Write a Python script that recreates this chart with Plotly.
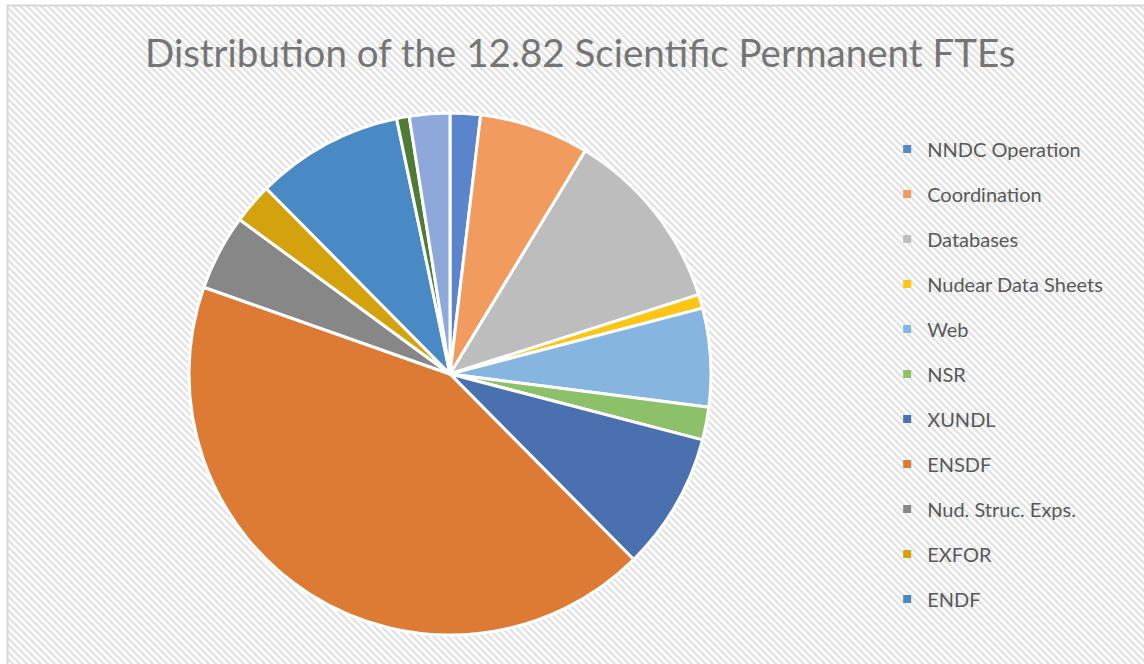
import base64
import plotly.graph_objects as go

# FTE split (total 12.82)
labels = ["NNDC Operation", "Coordination", "Databases", "Nuclear Data Sheets",
          "Web", "NSR", "XUNDL", "ENSDF", "Nucl. Struc. Exps.", "EXFOR", "ENDF",
          "Other A", "Other B"]
ftes = [0.24, 0.87, 1.46, 0.11, 0.78, 0.26, 1.09, 5.48, 0.60, 0.32, 1.17, 0.10, 0.32]
colors = ["#5a84cc", "#f29b5f", "#bdbdbd", "#ffc514", "#86b5e0", "#8cc16a",
          "#4a70b0", "#dd7a33", "#878787", "#d3a20c", "#4a8ac4", "#4f7b35", "#8ea8db"]
# legend in the reference only shows the first 11 categories
legend_labels = ["NNDC Operation", "Coordination", "Databases", "Nudear Data Sheets",
                 "Web", "NSR", "XUNDL", "ENSDF", "Nud. Struc. Exps.", "EXFOR", "ENDF"]

W, H = 1144, 664

# striped chart-area background like the Excel style
svg = f"""<svg xmlns='http://www.w3.org/2000/svg' width='{W}' height='{H}'>
<defs><pattern id='p' patternUnits='userSpaceOnUse' width='7' height='7'>
<rect width='7' height='7' fill='#ffffff'/>
<path d='M-2,-2 L9,9 M-9,-2 L2,9 M5,-2 L16,9' stroke='#e4e4e4' stroke-width='2.6'/>
</pattern></defs>
<rect x='0' y='0' width='{W}' height='{H}' fill='#ffffff'/>
<rect x='7' y='5' width='{W}' height='{H}' fill='url(#p)'/>
<line x1='7' y1='5.5' x2='{W}' y2='5.5' stroke='#d6d6d6' stroke-width='2'/>
<line x1='7.5' y1='5' x2='7.5' y2='{H}' stroke='#d6d6d6' stroke-width='2'/>
</svg>"""
bg = "data:image/svg+xml;base64," + base64.b64encode(svg.encode()).decode()

fig = go.Figure()

cx, cy, r = 450, 374, 261
fig.add_trace(go.Pie(
    labels=labels,
    values=ftes,
    sort=False,
    direction="clockwise",
    rotation=0,
    textinfo="none",
    hoverinfo="label+value+percent",
    marker=dict(colors=colors, line=dict(color="white", width=3)),
    showlegend=False,
    domain=dict(x=[(cx - r) / W, (cx + r) / W],
                y=[(H - cy - r) / H, (H - cy + r) / H]),
))

# legend entries drawn from empty scatter traces so only 11 show
for i, (name, c) in enumerate(zip(legend_labels, colors)):
    fig.add_trace(go.Scatter(
        x=[None], y=[None], mode="markers", name=name,
        legendgroup=f"g{i}",
        marker=dict(symbol="square", size=8, color=c),
    ))

fig.update_layout(
    width=W, height=H,
    margin=dict(l=0, r=0, t=0, b=0),
    paper_bgcolor="white",
    plot_bgcolor="rgba(0,0,0,0)",
    xaxis=dict(visible=False),
    yaxis=dict(visible=False),
    images=[dict(source=bg, xref="paper", yref="paper", x=0, y=1,
                 sizex=1, sizey=1, xanchor="left", yanchor="top",
                 sizing="stretch", layer="below")],
    legend=dict(x=0.7755, y=0.805, xanchor="left", yanchor="top",
                bgcolor="rgba(0,0,0,0)", traceorder="grouped",
                tracegroupgap=16,
                font=dict(family="Lato", size=20, color="#595959")),
    annotations=[dict(text="Distribution of the 12.82 Scientific Permanent FTEs",
                      x=580 / W, y=1 - 52 / H, xref="paper", yref="paper",
                      showarrow=False, xanchor="center", yanchor="middle",
                      font=dict(family="Lato", size=38.5, color="#757575"))],
)

# drop the default page margin so the figure sits at the window corner
fig.write_html("out.html", config={"displayModeBar": False},
               post_script="document.body.style.margin='0';")
